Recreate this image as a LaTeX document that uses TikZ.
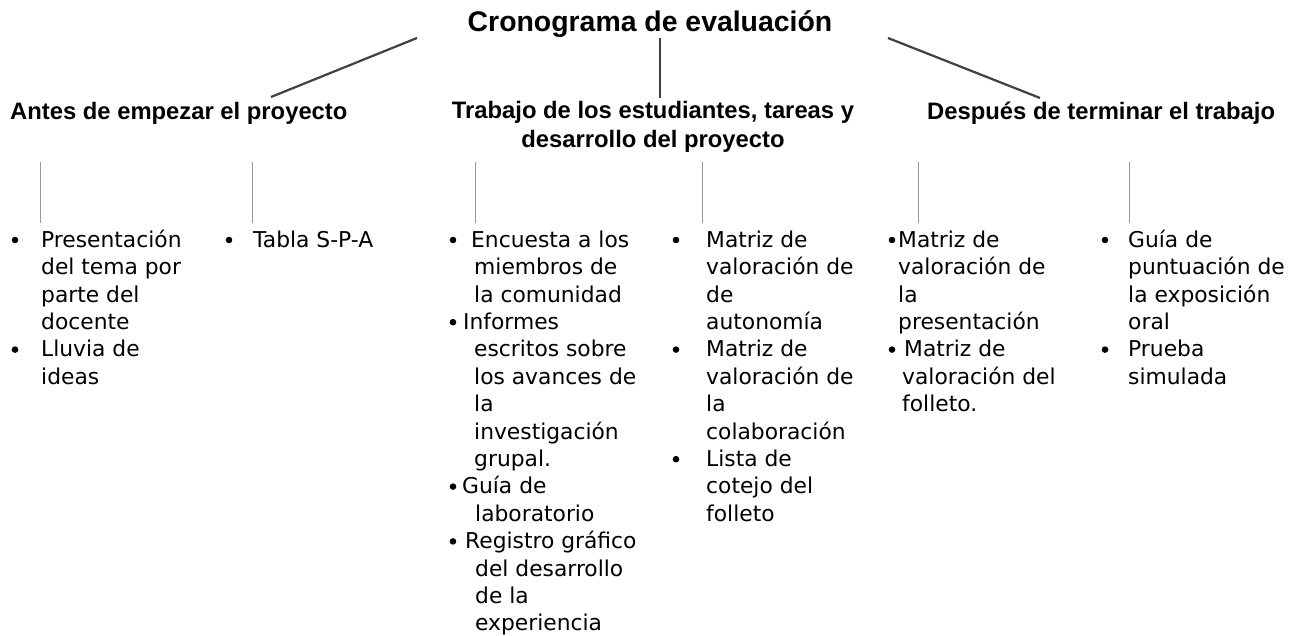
\documentclass[tikz,border=0pt]{standalone}
\usepackage{fontspec}
\setmainfont{DejaVu Sans}
\newfontfamily\headfont{Liberation Sans}
\newcommand\fl{\rule{0pt}{20pt}}
\begin{document}
\begin{tikzpicture}[x=1pt,y=-1pt,
 titlenode/.style={font=\headfont\bfseries\fontsize{28.4}{34}\selectfont, inner sep=0, anchor=base},
 headnode/.style={font=\headfont\bfseries\fontsize{23.8}{29}\selectfont, inner sep=0},
 item/.style={font=\fontsize{21.8}{27.4}\selectfont, inner sep=0, anchor=north west, align=left},
 bul/.style={circle, fill=black, inner sep=0, minimum size=6.6pt},
 conn/.style={draw=black!75, line width=2.2pt},
 stem/.style={draw=black!40, line width=0.9pt}]
\useasboundingbox (0,0) rectangle (1300,636);

% title and headings
\node[titlenode] (title) at (650,32) {Cronograma de evaluación};
\node[headnode, anchor=base west] (h1) at (10,120) {Antes de empezar el proyecto};
\node[headnode, anchor=base] (h2a) at (653,119) {Trabajo de los estudiantes, tareas y};
\node[headnode, anchor=base] (h2b) at (653,147.5) {desarrollo del proyecto};
\node[headnode, anchor=base west] (h3) at (927,120) {Después de terminar el trabajo};

% connectors
\coordinate (tl) at (417,38);
\coordinate (tm) at (660,38);
\coordinate (tr) at (888,38);
\coordinate (bl) at (271,97);
\coordinate (bm) at (660,98);
\coordinate (br) at (1040,98);
\draw[conn] (tl) -- (bl);
\draw[conn] (tm) -- (bm);
\draw[conn] (tr) -- (br);

% stems
\foreach \n/\x in {s1/40, s2/252, s3/475, s4/702, s5/918, s6/1129}{
  \coordinate (\n a) at (\x,162);
  \coordinate (\n b) at (\x,223);
  \draw[stem] (\n a) -- (\n b);
}

% column 1
\node[bul] (b11) at (15,240) {};
\node[item] (i11) at (41,227) {\fl Presentación\\del tema por\\parte del\\docente};
\node[bul] (b12) at (15,349.6) {};
\node[item] (i12) at (41,336.6) {\fl Lluvia de\\ideas};

% column 2
\node[bul] (b21) at (229,240) {};
\node[item] (i21) at (253,227) {\fl Tabla S-P-A};

% column 3
\node[bul] (b31) at (453,240) {};
\node[item] (i31) at (474,227) {\fl\hspace*{-3pt}Encuesta a los\\miembros de\\la comunidad};
\node[bul] (b32) at (453,322.2) {};
\node[item] (i32) at (474,309.2) {\fl\hspace*{-11pt}Informes\\escritos sobre\\los avances de\\la\\investigación\\grupal.};
\node[bul] (b33) at (453,486.6) {};
\node[item] (i33) at (475,473.6) {\fl\hspace*{-13pt}Guía de\\laboratorio};
\node[bul] (b34) at (453,541.4) {};
\node[item] (i34) at (475,528.4) {\fl\hspace*{-10pt}Registro gráfico\\del desarrollo\\de la\\experiencia};

% column 4
\node[bul] (b41) at (676,240) {};
\node[item] (i41) at (706,227) {\fl Matriz de\\valoración de\\de\\autonomía};
\node[bul] (b42) at (676,349.6) {};
\node[item] (i42) at (706,336.6) {\fl Matriz de\\valoración de\\la\\colaboración};
\node[bul] (b43) at (676,459.2) {};
\node[item] (i43) at (706,446.2) {\fl Lista de\\cotejo del\\folleto};

% column 5
\node[bul] (b51) at (892,240) {};
\node[item] (i51) at (898,227) {\fl Matriz de\\valoración de\\la\\presentación};
\node[bul] (b52) at (892,349.6) {};
\node[item] (i52) at (902,336.6) {\fl\hspace*{2pt}Matriz de\\valoración del\\folleto.};

% column 6
\node[bul] (b61) at (1105,240) {};
\node[item] (i61) at (1128,227) {\fl Guía de\\puntuación de\\la exposición\\oral};
\node[bul] (b62) at (1105,349.6) {};
\node[item] (i62) at (1128,336.6) {\fl Prueba\\simulada};
\end{tikzpicture}
\end{document}
